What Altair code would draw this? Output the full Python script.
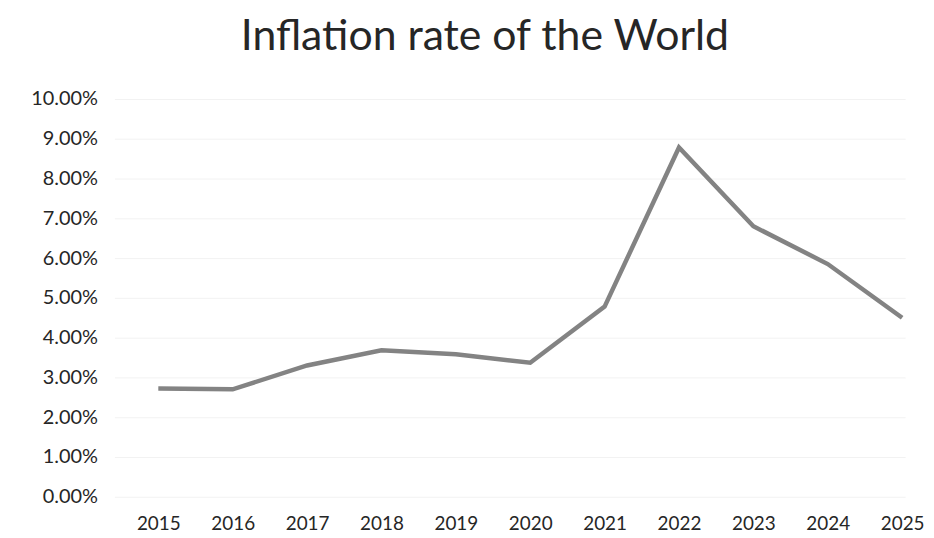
import altair as alt
import pandas as pd

years = [2015, 2016, 2017, 2018, 2019, 2020, 2021, 2022, 2023, 2024, 2025]
inflation = [0.0272, 0.0270, 0.0330, 0.0368, 0.0358, 0.0337, 0.0478, 0.0878, 0.0680, 0.0585, 0.0450]
y_ticks = [i / 100 for i in range(0, 11)]

df = pd.DataFrame({"year": years, "rate": inflation})

FONT = "Lato"

line = alt.Chart(df).mark_line(color="#838383", strokeWidth=4.5, strokeJoin="miter").encode(
    x=alt.X("year:Q",
            scale=alt.Scale(domain=[2014.41, 2025.04], nice=False, zero=False),
            axis=alt.Axis(values=years, format="d", title=None, grid=False,
                          domain=False, ticks=False, labelFontSize=19,
                          labelPadding=18, labelColor="#262626", labelFont=FONT,
                          labelOverlap=False)),
    y=alt.Y("rate:Q",
            scale=alt.Scale(domain=[0, 0.10], nice=False),
            axis=alt.Axis(values=y_ticks, format=".2%", title=None, grid=True,
                          gridColor="#f2f2f2", domain=False, ticks=False,
                          labelFontSize=20, labelPadding=17, labelColor="#262626",
                          labelFont=FONT)),
)

chart = line.properties(
    width=795,
    height=400,
    autosize=alt.AutoSizeParams(type="none"),
    padding={"left": 107, "top": 90, "right": 21, "bottom": 38},
    title=alt.TitleParams("Inflation rate of the World", fontSize=43, font=FONT,
                          fontWeight="normal", color="#262626", anchor="middle",
                          dx=-25, offset=30),
).configure_view(stroke=None)

chart.save("out.html", embed_options={"renderer": "svg", "actions": False})
